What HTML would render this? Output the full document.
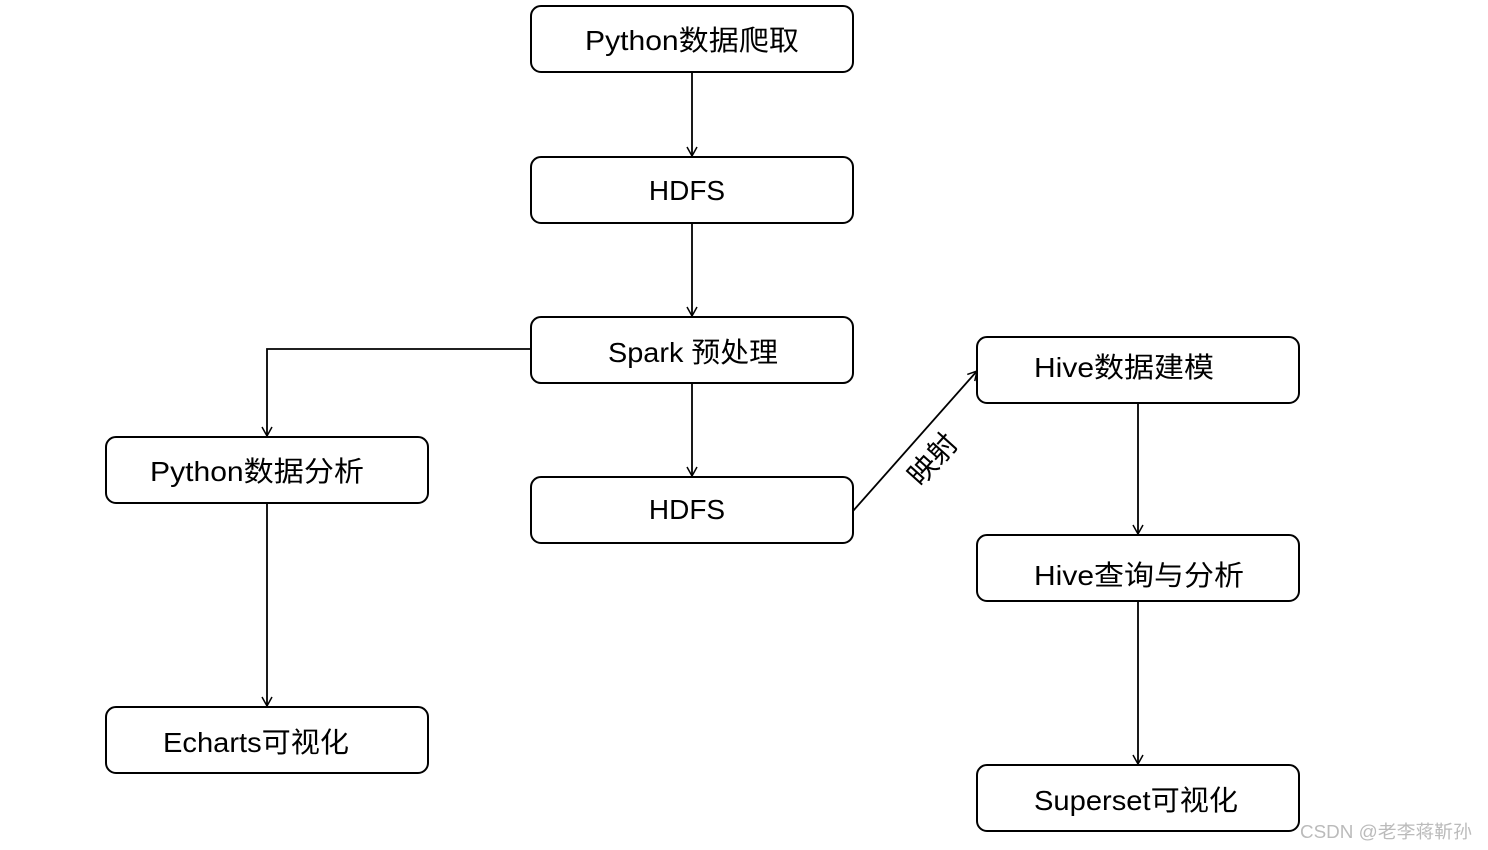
<!DOCTYPE html>
<html><head><meta charset="utf-8"><style>
html,body{margin:0;padding:0;background:#fff;width:1488px;height:850px;overflow:hidden}
text{font-family:"Liberation Sans","Noto Sans CJK SC",sans-serif;font-size:28px;fill:#000}
</style></head><body>
<svg width="1488" height="850" xmlns="http://www.w3.org/2000/svg">
<defs><marker id="a" markerWidth="12" markerHeight="12" refX="10" refY="6" orient="auto" markerUnits="userSpaceOnUse"><path d="M1,1 L10,6 L1,11" fill="none" stroke="#000" stroke-width="1.5"/></marker></defs>
<g fill="#fff" stroke="#000" stroke-width="2">
<rect x="531" y="6" width="322" height="66" rx="10"/>
<rect x="531" y="157" width="322" height="66" rx="10"/>
<rect x="531" y="317" width="322" height="66" rx="10"/>
<rect x="106" y="437" width="322" height="66" rx="10"/>
<rect x="531" y="477" width="322" height="66" rx="10"/>
<rect x="977" y="337" width="322" height="66" rx="10"/>
<rect x="977" y="535" width="322" height="66" rx="10"/>
<rect x="106" y="707" width="322" height="66" rx="10"/>
<rect x="977" y="765" width="322" height="66" rx="10"/>
</g>
<g stroke="#000" stroke-width="1.8" fill="none" marker-end="url(#a)">
<path d="M692,72 V156"/>
<path d="M692,223 V316"/>
<path d="M692,383 V476"/>
<path d="M531,349 H267 V436"/>
<path d="M267,503 V706"/>
<path d="M1138,403 V534"/>
<path d="M1138,601 V764"/>
<path d="M853,511 L977,371"/>
</g>
<g text-anchor="middle">
<text x="692" y="50" textLength="214" lengthAdjust="spacingAndGlyphs">Python数据爬取</text>
<text x="687" y="200">HDFS</text>
<text x="693" y="362" textLength="170" lengthAdjust="spacingAndGlyphs">Spark 预处理</text>
<text x="257" y="481" textLength="214" lengthAdjust="spacingAndGlyphs">Python数据分析</text>
<text x="687" y="519">HDFS</text>
<text x="1124" y="377" textLength="180" lengthAdjust="spacingAndGlyphs">Hive数据建模</text>
<text x="1139" y="585" textLength="210" lengthAdjust="spacingAndGlyphs">Hive查询与分析</text>
<text x="256" y="752" textLength="186" lengthAdjust="spacingAndGlyphs">Echarts可视化</text>
<text x="1136" y="810" textLength="204" lengthAdjust="spacingAndGlyphs">Superset可视化</text>
<text transform="translate(940,466) rotate(-48)" style="font-size:29px">映射</text>
</g>
<text x="1300" y="838" style="font-size:18px;fill:#bbb" textLength="172" lengthAdjust="spacingAndGlyphs">CSDN @老李蒋靳孙</text>
</svg>
</body></html>
